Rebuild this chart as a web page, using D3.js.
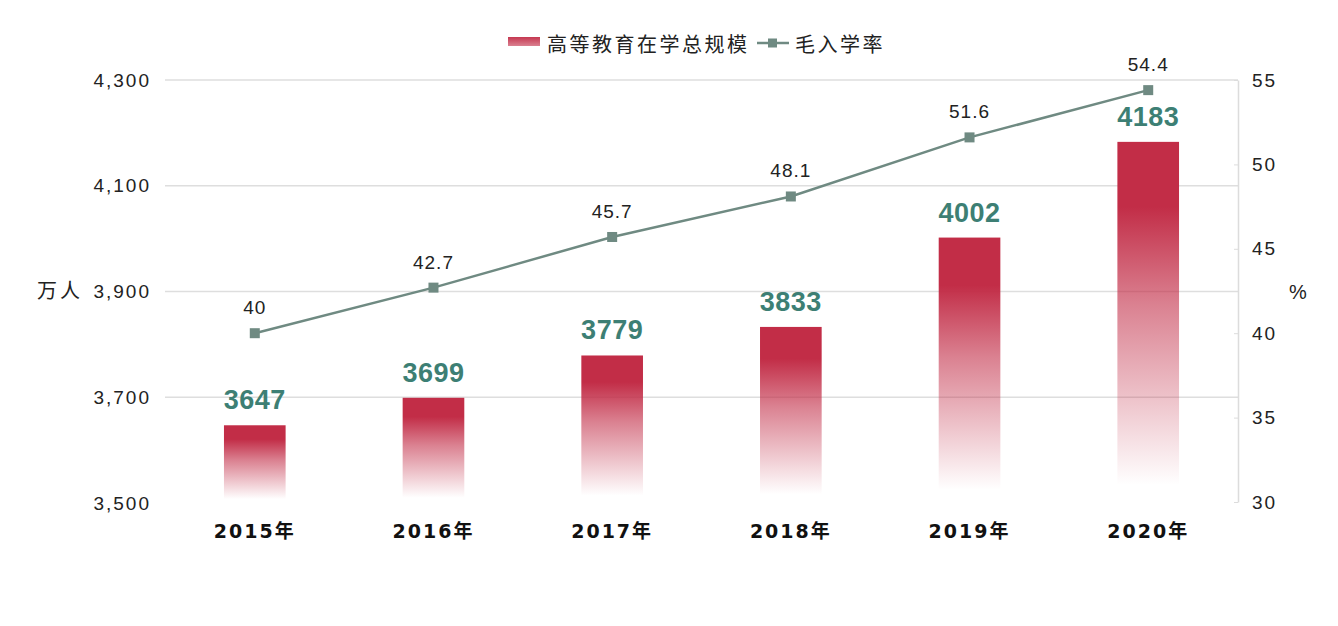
<!DOCTYPE html>
<html><head><meta charset="utf-8">
<script src="https://cdn.jsdelivr.net/npm/d3@7"></script>
<style>body{margin:0;background:#fff;}svg{display:block;}</style>
</head><body>
<svg id="chart" width="1338" height="626"></svg>
<script>
const categories = ["2015年","2016年","2017年","2018年","2019年","2020年"];
const enrollment = [3647, 3699, 3779, 3833, 4002, 4183];
const grossRate = [40, 42.7, 45.7, 48.1, 51.6, 54.4];
const leftTicks = [3500, 3700, 3900, 4100, 4300];
const rightTicks = [30, 35, 40, 45, 50, 55];
const seriesNames = ["高等教育在学总规模", "毛入学率"];

const svg = d3.select("#chart");
const FONT = "'Liberation Sans','Noto Sans CJK SC',sans-serif";
const barColor = "#c22d47", lineColor = "#6f8a82", labelGreen = "#3d7f74";

const x = d3.scaleBand().domain(categories).range([165, 1238]).paddingInner(0.655).paddingOuter(0.33);
const yL = d3.scaleLinear().domain([3500, 4300]).range([503, 80]);
const yR = d3.scaleLinear().domain([30, 55]).range([502, 80]);

const defs = svg.append("defs");
const g = defs.append("linearGradient").attr("id","barGrad").attr("x1",0).attr("y1",0).attr("x2",0).attr("y2",1);
[[0,1],[0.18,1],[0.45,0.6],[0.7,0.3],[0.95,0]].forEach(([o,a])=>g.append("stop").attr("offset",o).attr("stop-color",barColor).attr("stop-opacity",a));
const lg = defs.append("linearGradient").attr("id","legGrad").attr("x1",0).attr("y1",0).attr("x2",0).attr("y2",1);
[[0,0.95],[1,0.6]].forEach(([o,a])=>lg.append("stop").attr("offset",o).attr("stop-color",barColor).attr("stop-opacity",a));

// gridlines
svg.append("g").selectAll("line").data(leftTicks.filter(d=>d!==3500)).join("line")
  .attr("x1",165).attr("x2",1238).attr("y1",d=>yL(d)).attr("y2",d=>yL(d))
  .attr("stroke","#dedede").attr("stroke-width",1.3);

// left axis labels
const axL = svg.append("g").attr("transform","translate(151,0)")
  .call(d3.axisLeft(yL).tickValues(leftTicks).tickFormat(d3.format(",")).tickSize(0).tickPadding(0));
axL.select(".domain").remove();
axL.selectAll("text").attr("font-family",FONT).attr("font-size",19).attr("fill","#222").attr("letter-spacing","2px");

// right axis
const axR = svg.append("g").attr("transform","translate(1238,0)")
  .call(d3.axisRight(yR).tickValues(rightTicks).tickSize(0).tickPadding(14));
axR.select(".domain").attr("stroke","#dcdcdc").attr("stroke-width",1.5);
axR.selectAll(".tick line").attr("x1",-4).attr("x2",0).attr("stroke","#dcdcdc");
axR.selectAll("text").attr("font-family",FONT).attr("font-size",19).attr("fill","#222").attr("letter-spacing","2px");

// axis titles
svg.append("text").attr("x",60).attr("y",298).attr("text-anchor","middle").attr("font-family",FONT)
  .attr("font-size",20).attr("letter-spacing","3px").attr("fill","#222").text("万人");
svg.append("text").attr("x",1298).attr("y",299).attr("text-anchor","middle").attr("font-family",FONT)
  .attr("font-size",20).attr("fill","#222").text("%");

// bars
svg.append("g").selectAll("rect").data(enrollment).join("rect")
  .attr("x",(d,i)=>x(categories[i])).attr("width",x.bandwidth())
  .attr("y",d=>yL(d)).attr("height",d=>yL(3500)-yL(d)).attr("fill","url(#barGrad)");

// bar labels
svg.append("g").selectAll("text").data(enrollment).join("text")
  .attr("x",(d,i)=>x(categories[i])+x.bandwidth()/2).attr("y",d=>yL(d)-16)
  .attr("text-anchor","middle").attr("font-family",FONT).attr("font-weight","bold")
  .attr("font-size",27).attr("fill",labelGreen).attr("letter-spacing","0.5px").text(d=>d);

// x labels
svg.append("g").selectAll("text").data(categories).join("text")
  .attr("x",d=>x(d)+x.bandwidth()/2).attr("y",538).attr("text-anchor","middle")
  .attr("font-family","'DejaVu Sans','Noto Sans CJK SC',sans-serif").attr("font-weight","bold")
  .attr("font-size",19).attr("letter-spacing","2px").attr("fill","#111").text(d=>d);

// line
const cx = i => x(categories[i]) + x.bandwidth()/2;
svg.append("path").datum(grossRate)
  .attr("d", d3.line().x((d,i)=>cx(i)).y(d=>yR(d)))
  .attr("fill","none").attr("stroke",lineColor).attr("stroke-width",2.5);
svg.append("g").selectAll("rect").data(grossRate).join("rect")
  .attr("x",(d,i)=>cx(i)-5).attr("y",d=>yR(d)-5).attr("width",10).attr("height",10).attr("fill",lineColor);
svg.append("g").selectAll("text").data(grossRate).join("text")
  .attr("x",(d,i)=>cx(i)).attr("y",d=>yR(d)-19).attr("text-anchor","middle")
  .attr("font-family",FONT).attr("font-size",19).attr("letter-spacing","1px").attr("fill","#222").text(d=>d);

// legend
const leg = svg.append("g");
leg.append("rect").attr("x",508).attr("y",37).attr("width",32).attr("height",9).attr("fill","url(#legGrad)");
leg.append("text").attr("x",547).attr("y",52).attr("font-family",FONT).attr("font-size",20)
  .attr("letter-spacing","2.5px").attr("fill","#222").text(seriesNames[0]);
leg.append("line").attr("x1",757).attr("x2",789).attr("y1",43).attr("y2",43).attr("stroke",lineColor).attr("stroke-width",2.5);
leg.append("rect").attr("x",768).attr("y",38.5).attr("width",9).attr("height",9).attr("fill",lineColor);
leg.append("text").attr("x",795).attr("y",52).attr("font-family",FONT).attr("font-size",20)
  .attr("letter-spacing","2.5px").attr("fill","#222").text(seriesNames[1]);
</script>
</body></html>
